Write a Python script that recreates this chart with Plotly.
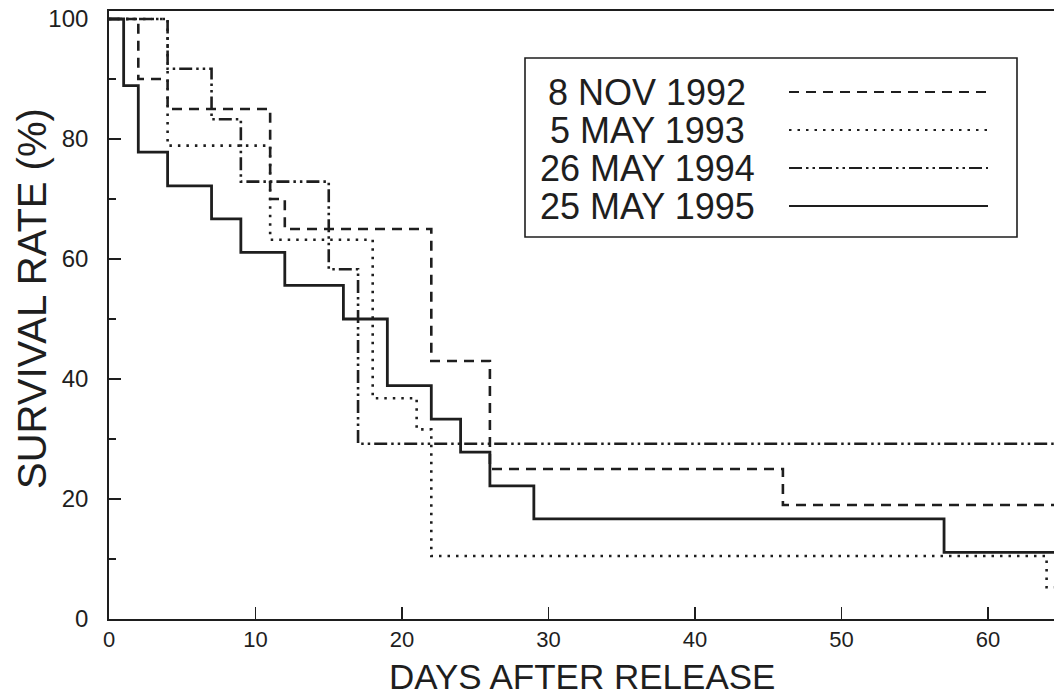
import plotly.graph_objects as go

# ---- data ----
series_names = ["8 NOV 1992", "5 MAY 1993", "26 MAY 1994", "25 MAY 1995"]

nov1992_days = [0, 2, 4, 11, 12, 22, 26, 46, 66]
nov1992_pct = [100, 90, 85, 70, 65, 43, 25, 19, 19]

may1993_days = [0, 4, 11, 18, 21, 22, 64, 66]
may1993_pct = [100, 78.9, 63.2, 36.8, 31.6, 10.5, 5.3, 5.3]

may1994_days = [0, 4, 7, 9, 15, 17, 66]
may1994_pct = [100, 91.7, 83.3, 72.9, 58.3, 29.2, 29.2]

may1995_days = [0, 1, 2, 4, 7, 9, 12, 16, 19, 22, 24, 26, 29, 57, 66]
may1995_pct = [100, 88.9, 77.8, 72.2, 66.7, 61.1, 55.6, 50.0, 38.9, 33.3, 27.8, 22.2, 16.7, 11.1, 11.1]

x_ticks = [0, 10, 20, 30, 40, 50, 60]
y_ticks = [0, 20, 40, 60, 80, 100]
y_minor_ticks = [10, 30, 50, 70, 90]

x_title = "DAYS AFTER RELEASE"
y_title = "SURVIVAL RATE (%)"

# ---- styles ----
INK = "#1e1e1e"
FONT = "Liberation Sans, Arial, Helvetica, sans-serif"
dash_styles = ["10px,7px", "2.5px,6px", "13px,4px,2.5px,4px,2.5px,4px", "solid"]
widths = [2.6, 2.6, 2.6, 2.8]

all_days = [nov1992_days, may1993_days, may1994_days, may1995_days]
all_pct = [nov1992_pct, may1993_pct, may1994_pct, may1995_pct]

fig = go.Figure()
for name, d, p, dash, w in zip(series_names, all_days, all_pct, dash_styles, widths):
    fig.add_trace(go.Scatter(
        x=d, y=p, name=name, mode="lines",
        line=dict(shape="hv", color=INK, width=w, dash=dash),
        showlegend=False, cliponaxis=True, hoverinfo="skip",
    ))

# ---- layout helpers (page pixels -> paper coords) ----
L, R, T, B = 109, 1054, 11, 619
W, H = R - L, B - T

def px(xp):
    return (xp - L) / W

def py(yp):
    return (B - yp) / H

# ---- custom legend (text left, line sample right) ----
shapes = [dict(type="rect", xref="paper", yref="paper",
               x0=px(525), x1=px(1017), y0=py(237), y1=py(58),
               line=dict(color=INK, width=1.6), fillcolor="rgba(0,0,0,0)")]
annotations = []
row_y = [92, 130, 168, 206]
for name, dash, w, ry in zip(series_names, dash_styles, widths, row_y):
    annotations.append(dict(xref="paper", yref="paper", x=px(647), y=py(ry),
                            text=name, showarrow=False, xanchor="center",
                            yanchor="middle",
                            font=dict(family=FONT, size=36, color=INK)))
    shapes.append(dict(type="line", xref="paper", yref="paper",
                       x0=px(789), x1=px(988), y0=py(ry), y1=py(ry),
                       line=dict(color=INK, width=w - 0.6, dash=dash)))

# ---- axis titles ----
annotations.append(dict(xref="paper", yref="paper", x=px(582), y=py(676),
                        text=x_title, showarrow=False, xanchor="center",
                        yanchor="middle",
                        font=dict(family=FONT, size=35, color=INK)))
annotations.append(dict(xref="paper", yref="paper", x=px(32), y=py(299),
                        text=y_title, showarrow=False, xanchor="center",
                        yanchor="middle", textangle=-90,
                        font=dict(family=FONT, size=40, color=INK)))

fig.update_layout(
    width=1054, height=700,
    margin=dict(l=L, r=0, t=T, b=700 - B, autoexpand=False),
    paper_bgcolor="white", plot_bgcolor="white",
    shapes=shapes, annotations=annotations,
    font=dict(family=FONT, color=INK),
    hovermode=False,
    xaxis=dict(
        range=[0, W / 14.65], tickvals=x_ticks, ticks="inside", ticklen=12,
        tickcolor=INK, tickwidth=1.2, showgrid=False, zeroline=False,
        showline=True, linecolor=INK, linewidth=1.8, mirror=True,
        automargin=False, ticklabelstandoff=0,
        tickfont=dict(family=FONT, size=22, color=INK),
    ),
    yaxis=dict(
        range=[0, H / 6.0], tickvals=y_ticks, ticks="inside", ticklen=12,
        tickcolor=INK, tickwidth=1.2, showgrid=False, zeroline=False,
        showline=True, linecolor=INK, linewidth=1.8,
        automargin=False, ticklabelstandoff=14,
        minor=dict(tickvals=y_minor_ticks, ticks="inside", ticklen=7,
                   tickcolor=INK, tickwidth=1.2, showgrid=False),
        tickfont=dict(family=FONT, size=24, color=INK),
    ),
)

fig.write_html(
    "out.html",
    config={"displayModeBar": False, "staticPlot": True},
    post_script="document.body.style.margin='0';document.body.style.overflow='hidden';",
)
